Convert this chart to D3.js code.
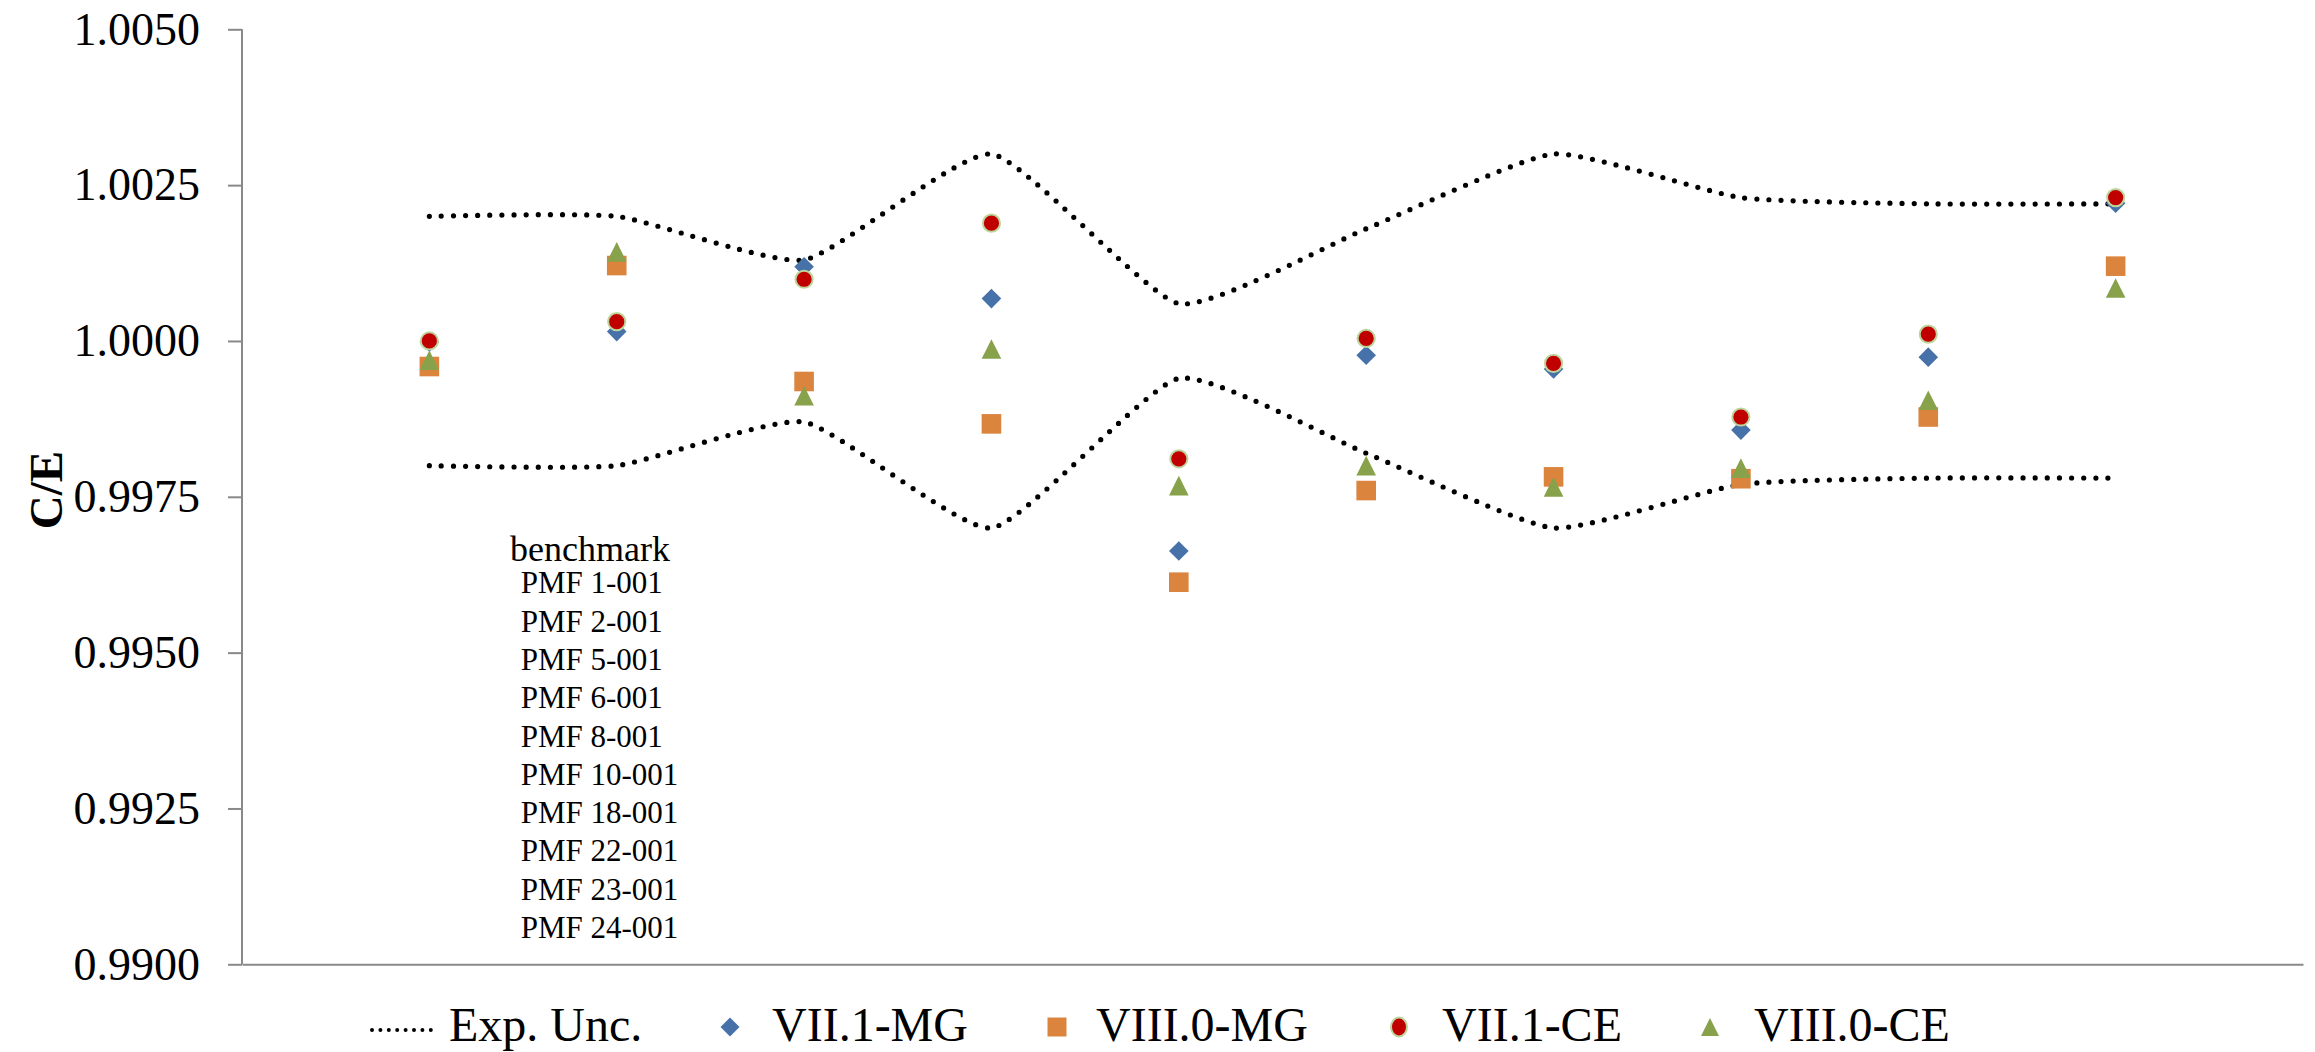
<!DOCTYPE html>
<html>
<head>
<meta charset="utf-8">
<script src="https://cdn.jsdelivr.net/npm/d3@7"></script>
<style>
  html, body { margin: 0; padding: 0; background: #fff; }
  svg { display: block; font-family: "Liberation Serif", "Times New Roman", serif; }
</style>
</head>
<body>
<svg id="chart" width="2315" height="1052"></svg>
<script>
// Benchmarks (x = 1..10) and C/E results
const benchmarks = ["PMF 1-001", "PMF 2-001", "PMF 5-001", "PMF 6-001", "PMF 8-001",
                    "PMF 10-001", "PMF 18-001", "PMF 22-001", "PMF 23-001", "PMF 24-001"];
const xIndex = [1, 2, 3, 4, 5, 6, 7, 8, 9, 10];

const expUpper = [1.0020, 1.0020, 1.0013, 1.0030, 1.0006, 1.0018, 1.0030, 1.0023, 1.0022, 1.0022];
const expLower = [0.9980, 0.9980, 0.9987, 0.9970, 0.9994, 0.9982, 0.9970, 0.9977, 0.9978, 0.9978];

const vii1MG  = [0.99998, 1.00015, 1.00119, 1.00068, 0.99663, 0.99977, 0.99955, 0.99857, 0.99974, 1.00221];
const viii0MG = [0.99959, 1.00121, 0.99935, 0.99867, 0.99613, 0.99760, 0.99782, 0.99779, 0.99878, 1.00120];
const vii1CE  = [1.00000, 1.00031, 1.00099, 1.00189, 0.99811, 1.00004, 0.99964, 0.99878, 1.00011, 1.00230];
const viii0CE = [0.99969, 1.00143, 0.99912, 0.99987, 0.99768, 0.99800, 0.99766, 0.99796, 0.99905, 1.00085];

const yTicks = [0.9900, 0.9925, 0.9950, 0.9975, 1.0000, 1.0025, 1.0050];
const yTitle = "C/E";
const listTitle = "benchmark";

const seriesNames = ["Exp. Unc.", "VII.1-MG", "VIII.0-MG", "VII.1-CE", "VIII.0-CE"];

// ---- layout ----
const svg = d3.select("#chart");
const plot = { left: 242, right: 2303, top: 29.3, bottom: 964.3 };

const x = d3.scaleLinear().domain([0, 11]).range([plot.left, plot.right]);
const y = d3.scaleLinear().domain([0.9900, 1.0050]).range([plot.bottom, plot.top]);

const axisColor = "#898989";

// y axis
const yAxis = svg.append("g")
  .attr("transform", `translate(${plot.left},0)`)
  .call(d3.axisLeft(y).tickValues(yTicks).tickFormat(d3.format(".4f")).tickSize(14).tickPadding(28));
yAxis.select(".domain").attr("stroke", axisColor).attr("stroke-width", 2)
  .attr("d", `M0,${plot.bottom}V${plot.top}`);
yAxis.selectAll(".tick line").attr("stroke", axisColor).attr("stroke-width", 2);
yAxis.selectAll(".tick text").attr("font-size", 46).attr("fill", "#000")
  .attr("font-family", "Liberation Serif, Times New Roman, serif");

// x axis (line only)
const xAxis = svg.append("g")
  .attr("transform", `translate(0,${plot.bottom})`)
  .call(d3.axisBottom(x).tickValues([]).tickSizeOuter(0));
xAxis.select(".domain").attr("stroke", axisColor).attr("stroke-width", 2);

// y title
svg.append("text")
  .attr("transform", `translate(${62},${490}) rotate(-90)`)
  .attr("text-anchor", "middle")
  .attr("font-size", 47)
  .attr("font-weight", "bold")
  .text(yTitle);

// benchmark list
svg.append("text")
  .attr("x", 510).attr("y", 560.7)
  .attr("font-size", 36)
  .text(listTitle);
svg.append("g").selectAll("text")
  .data(benchmarks)
  .join("text")
  .attr("x", 520.7)
  .attr("y", (d, i) => 593.3 + i * 38.3)
  .attr("font-size", 31)
  .text(d => d);

// ---- experimental uncertainty band (smoothed dotted lines) ----
const line = d3.line()
  .x((d, i) => x(xIndex[i]))
  .y(d => y(d))
  .curve(d3.curveCardinal.tension(0.5));

const dotStyle = sel => sel
  .attr("fill", "none")
  .attr("stroke", "#000")
  .attr("stroke-width", 5.2)
  .attr("stroke-linecap", "round")
  .attr("stroke-dasharray", "0 12.1");

svg.append("path").datum(expUpper).attr("d", line).call(dotStyle);
svg.append("path").datum(expLower).attr("d", line).call(dotStyle);

// ---- marker shapes ----
const half = 9.8;
const shapes = {
  diamond: s => `M0,${-s}L${s},0L0,${s}L${-s},0Z`,
  square:  s => `M${-s},${-s}H${s}V${s}H${-s}Z`,
  triangle: s => `M0,${-s}L${s},${s}H${-s}Z`
};

const colors = {
  diamond: "#4672A9",
  square: "#DA843E",
  circleFill: "#C00000",
  circleStroke: "#BDD59C",
  triangle: "#87A24B"
};

function drawPath(values, shape, fill) {
  svg.append("g").selectAll("path")
    .data(values)
    .join("path")
    .attr("transform", (d, i) => `translate(${x(xIndex[i])},${y(d)})`)
    .attr("d", shapes[shape](half))
    .attr("fill", fill);
}

drawPath(vii1MG, "diamond", colors.diamond);
drawPath(viii0MG, "square", colors.square);
svg.append("g").selectAll("circle")
  .data(vii1CE)
  .join("circle")
  .attr("cx", (d, i) => x(xIndex[i]))
  .attr("cy", d => y(d))
  .attr("r", 8.6)
  .attr("fill", colors.circleFill)
  .attr("stroke", colors.circleStroke)
  .attr("stroke-width", 2);
drawPath(viii0CE, "triangle", colors.triangle);

// ---- legend ----
const legY = 1027;
const legend = svg.append("g").attr("font-size", 48);
const items = [
  { name: seriesNames[0], type: "line", mx: 404, tx: 449 },
  { name: seriesNames[1], type: "diamond", mx: 730, tx: 772 },
  { name: seriesNames[2], type: "square", mx: 1057, tx: 1096 },
  { name: seriesNames[3], type: "circle", mx: 1399, tx: 1442 },
  { name: seriesNames[4], type: "triangle", mx: 1710, tx: 1754 }
];
items.forEach(it => {
  if (it.type === "line") {
    legend.append("line")
      .attr("x1", it.mx - 32).attr("x2", it.mx + 32)
      .attr("y1", legY + 3).attr("y2", legY + 3)
      .call(dotStyle)
      .attr("stroke-width", 4).attr("stroke-dasharray", "0 8.4");
  } else if (it.type === "circle") {
    legend.append("ellipse")
      .attr("cx", it.mx).attr("cy", legY).attr("rx", 8).attr("ry", 9.5)
      .attr("fill", colors.circleFill).attr("stroke", colors.circleStroke).attr("stroke-width", 2);
  } else {
    legend.append("path")
      .attr("transform", `translate(${it.mx},${legY})`)
      .attr("d", shapes[it.type](it.type === "triangle" ? 9 : 9.5))
      .attr("fill", colors[it.type]);
  }
  legend.append("text").attr("x", it.tx).attr("y", legY + 14).text(it.name);
});
</script>
</body>
</html>
